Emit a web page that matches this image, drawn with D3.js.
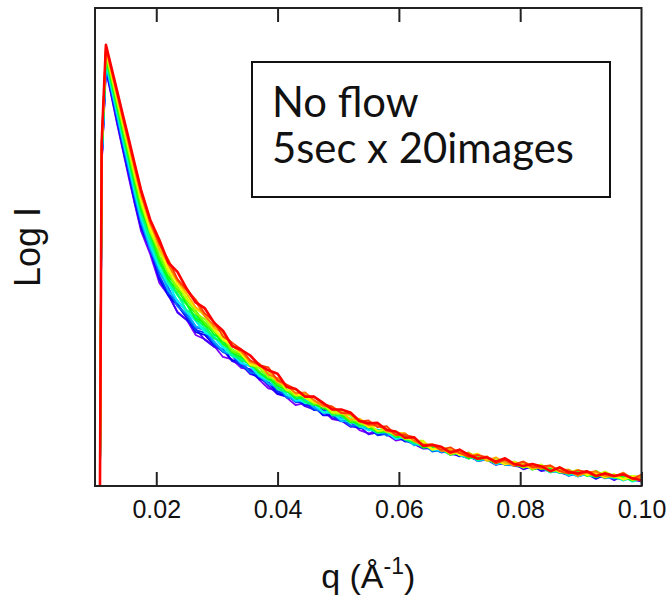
<!DOCTYPE html>
<html>
<head>
<meta charset="utf-8">
<script src="https://cdn.jsdelivr.net/npm/d3@7"></script>
<style>
  body { margin: 0; background: #fff; }
</style>
</head>
<body>
<svg id="chart" width="669" height="600"></svg>
<script>
// q values shared by every image (1/Angstrom)
const qValues = [0.0107, 0.0110, 0.0117, 0.0125, 0.0135, 0.0145, 0.0155, 0.0165, 0.0175,
  0.0190, 0.0205, 0.0220, 0.0235, 0.0250, 0.0265, 0.0280, 0.0295, 0.0310, 0.0325, 0.0340,
  0.0355, 0.0370, 0.0385, 0.0400, 0.0415, 0.0430, 0.0445, 0.0460, 0.0475, 0.0490, 0.0505,
  0.0520, 0.0535, 0.0550, 0.0565, 0.0580, 0.0595, 0.0610, 0.0625, 0.0640, 0.0655, 0.0670,
  0.0685, 0.0700, 0.0715, 0.0730, 0.0745, 0.0760, 0.0775, 0.0790, 0.0805, 0.0820, 0.0835,
  0.0850, 0.0865, 0.0880, 0.0895, 0.0910, 0.0925, 0.0940, 0.0955, 0.0970, 0.0985, 0.1000];

// Log I (arbitrary units) for the 20 images, first (violet) to last (red)
const img01 = [-0.5, 6.70, 8.70, 8.22, 7.60, 7.02, 6.43, 5.87, 5.33,
  4.85, 4.25, 3.99, 3.64, 3.48, 3.16, 3.07, 2.94, 2.70, 2.65, 2.47, 2.44, 2.22, 2.04, 1.99, 1.85, 1.69, 1.74, 1.59, 1.58, 1.40, 1.36, 1.34, 1.17, 1.10, 1.14, 1.08, 0.95, 0.99, 0.88, 0.88, 0.73, 0.80, 0.67, 0.63, 0.66, 0.52, 0.55, 0.55, 0.45, 0.47, 0.35, 0.41, 0.40, 0.30, 0.29, 0.33, 0.20, 0.25, 0.25, 0.16, 0.23, 0.15, 0.16, 0.10];
const img02 = [-0.5, 6.73, 8.73, 8.24, 7.64, 7.05, 6.48, 5.90, 5.38,
  4.92, 4.31, 4.01, 3.63, 3.47, 3.29, 3.06, 2.91, 2.85, 2.61, 2.54, 2.34, 2.29, 2.10, 1.92, 1.87, 1.82, 1.67, 1.60, 1.60, 1.42, 1.37, 1.24, 1.25, 1.08, 1.12, 1.09, 0.97, 1.02, 0.88, 0.78, 0.79, 0.70, 0.76, 0.64, 0.58, 0.61, 0.55, 0.44, 0.52, 0.42, 0.39, 0.43, 0.31, 0.35, 0.29, 0.30, 0.22, 0.27, 0.17, 0.22, 0.12, 0.22, 0.14, 0.09];
const img03 = [-0.5, 6.76, 8.76, 8.28, 7.68, 7.09, 6.53, 5.95, 5.43,
  4.97, 4.35, 3.98, 3.78, 3.52, 3.22, 3.16, 2.95, 2.86, 2.63, 2.61, 2.38, 2.24, 2.17, 1.94, 1.87, 1.84, 1.70, 1.66, 1.48, 1.48, 1.41, 1.27, 1.21, 1.23, 1.07, 1.10, 1.05, 0.93, 0.95, 0.82, 0.79, 0.71, 0.73, 0.62, 0.67, 0.56, 0.60, 0.45, 0.48, 0.48, 0.36, 0.41, 0.33, 0.40, 0.29, 0.22, 0.28, 0.25, 0.15, 0.24, 0.16, 0.22, 0.11, 0.14];
const img04 = [-0.5, 6.78, 8.78, 8.31, 7.72, 7.13, 6.57, 6.00, 5.48,
  5.02, 4.40, 4.03, 3.81, 3.55, 3.26, 3.21, 2.97, 2.80, 2.73, 2.50, 2.44, 2.27, 2.18, 1.98, 1.91, 1.75, 1.76, 1.59, 1.62, 1.47, 1.35, 1.37, 1.21, 1.21, 1.06, 1.09, 1.08, 0.95, 0.88, 0.91, 0.74, 0.76, 0.65, 0.71, 0.62, 0.53, 0.58, 0.56, 0.44, 0.43, 0.49, 0.37, 0.38, 0.29, 0.35, 0.21, 0.28, 0.27, 0.19, 0.27, 0.18, 0.13, 0.18, 0.11];
const img05 = [-0.5, 6.81, 8.81, 8.34, 7.75, 7.17, 6.61, 6.04, 5.52,
  4.94, 4.48, 4.15, 3.76, 3.59, 3.32, 3.26, 3.00, 2.81, 2.74, 2.59, 2.37, 2.34, 2.14, 2.08, 1.85, 1.82, 1.81, 1.63, 1.53, 1.53, 1.42, 1.26, 1.27, 1.18, 1.18, 1.05, 1.11, 0.96, 0.88, 0.89, 0.72, 0.75, 0.75, 0.65, 0.66, 0.52, 0.57, 0.55, 0.45, 0.44, 0.49, 0.35, 0.39, 0.37, 0.27, 0.33, 0.24, 0.25, 0.20, 0.24, 0.15, 0.23, 0.14, 0.20];
const img06 = [-0.5, 6.83, 8.84, 8.37, 7.79, 7.21, 6.65, 6.08, 5.56,
  4.98, 4.55, 4.08, 3.88, 3.64, 3.34, 3.28, 3.03, 2.83, 2.75, 2.56, 2.52, 2.30, 2.14, 2.07, 1.91, 1.77, 1.81, 1.65, 1.56, 1.54, 1.36, 1.35, 1.24, 1.23, 1.11, 1.14, 0.99, 1.01, 0.85, 0.90, 0.78, 0.71, 0.76, 0.65, 0.66, 0.52, 0.56, 0.56, 0.45, 0.43, 0.50, 0.36, 0.39, 0.29, 0.35, 0.27, 0.20, 0.27, 0.28, 0.17, 0.17, 0.24, 0.13, 0.15];
const img07 = [-0.5, 6.86, 8.87, 8.40, 7.83, 7.25, 6.70, 6.13, 5.61,
  5.05, 4.55, 4.25, 3.86, 3.67, 3.45, 3.21, 3.12, 2.89, 2.76, 2.58, 2.50, 2.30, 2.25, 2.04, 1.98, 1.79, 1.78, 1.72, 1.54, 1.53, 1.39, 1.42, 1.25, 1.16, 1.18, 1.12, 0.98, 1.03, 0.90, 0.91, 0.75, 0.76, 0.77, 0.64, 0.58, 0.63, 0.57, 0.45, 0.51, 0.44, 0.48, 0.36, 0.44, 0.32, 0.28, 0.32, 0.20, 0.25, 0.28, 0.19, 0.22, 0.11, 0.18, 0.18];
const img08 = [-0.5, 6.89, 8.90, 8.43, 7.86, 7.29, 6.74, 6.17, 5.65,
  5.17, 4.57, 4.21, 4.01, 3.65, 3.48, 3.23, 3.14, 2.92, 2.71, 2.66, 2.53, 2.31, 2.20, 2.14, 1.90, 1.86, 1.73, 1.73, 1.54, 1.54, 1.46, 1.32, 1.33, 1.21, 1.11, 1.13, 1.02, 1.07, 0.90, 0.82, 0.83, 0.76, 0.65, 0.72, 0.61, 0.56, 0.59, 0.46, 0.50, 0.44, 0.46, 0.37, 0.41, 0.29, 0.33, 0.22, 0.31, 0.23, 0.19, 0.27, 0.17, 0.21, 0.09, 0.15];
const img09 = [-0.5, 6.91, 8.92, 8.46, 7.90, 7.33, 6.78, 6.22, 5.70,
  5.10, 4.67, 4.26, 4.03, 3.68, 3.56, 3.29, 3.10, 2.99, 2.73, 2.65, 2.55, 2.35, 2.27, 2.02, 1.97, 1.91, 1.76, 1.69, 1.68, 1.48, 1.46, 1.40, 1.24, 1.28, 1.15, 1.13, 1.03, 1.03, 0.89, 0.91, 0.78, 0.82, 0.66, 0.69, 0.68, 0.54, 0.58, 0.49, 0.56, 0.45, 0.39, 0.44, 0.40, 0.28, 0.36, 0.27, 0.32, 0.21, 0.25, 0.28, 0.17, 0.14, 0.21, 0.17];
const img10 = [-0.5, 6.94, 8.95, 8.49, 7.93, 7.36, 6.82, 6.26, 5.74,
  5.22, 4.67, 4.34, 3.99, 3.80, 3.47, 3.36, 3.09, 3.03, 2.79, 2.62, 2.58, 2.37, 2.28, 2.04, 1.97, 1.93, 1.77, 1.69, 1.70, 1.50, 1.47, 1.33, 1.33, 1.22, 1.12, 1.16, 1.12, 0.97, 0.91, 0.93, 0.77, 0.77, 0.66, 0.72, 0.57, 0.62, 0.59, 0.48, 0.55, 0.45, 0.39, 0.43, 0.35, 0.42, 0.30, 0.25, 0.30, 0.26, 0.18, 0.27, 0.18, 0.16, 0.21, 0.10];
const img11 = [-0.5, 6.97, 8.98, 8.53, 7.97, 7.41, 6.86, 6.31, 5.79,
  5.31, 4.73, 4.31, 4.10, 3.82, 3.50, 3.42, 3.17, 3.05, 2.79, 2.69, 2.59, 2.37, 2.23, 2.17, 2.00, 1.83, 1.85, 1.72, 1.70, 1.52, 1.54, 1.37, 1.28, 1.29, 1.12, 1.14, 1.12, 0.99, 0.97, 0.80, 0.83, 0.80, 0.69, 0.67, 0.70, 0.55, 0.58, 0.55, 0.45, 0.51, 0.42, 0.42, 0.35, 0.38, 0.28, 0.34, 0.25, 0.31, 0.19, 0.23, 0.24, 0.13, 0.19, 0.12];
const img12 = [-0.5, 6.99, 9.01, 8.56, 8.00, 7.45, 6.90, 6.35, 5.83,
  5.33, 4.74, 4.38, 4.17, 3.81, 3.61, 3.36, 3.25, 2.96, 2.86, 2.73, 2.51, 2.48, 2.28, 2.10, 2.01, 1.88, 1.90, 1.72, 1.62, 1.60, 1.49, 1.34, 1.37, 1.23, 1.16, 1.18, 1.03, 1.04, 0.93, 0.91, 0.78, 0.80, 0.67, 0.70, 0.58, 0.65, 0.55, 0.48, 0.55, 0.44, 0.47, 0.34, 0.39, 0.40, 0.29, 0.27, 0.34, 0.21, 0.26, 0.17, 0.24, 0.18, 0.11, 0.18];
const img13 = [-0.5, 7.02, 9.03, 8.59, 8.04, 7.48, 6.94, 6.40, 5.88,
  5.37, 4.80, 4.47, 4.08, 3.89, 3.67, 3.41, 3.23, 3.11, 2.81, 2.73, 2.60, 2.40, 2.36, 2.14, 2.02, 1.89, 1.87, 1.71, 1.72, 1.56, 1.55, 1.36, 1.34, 1.30, 1.14, 1.17, 1.06, 1.09, 0.94, 0.83, 0.84, 0.79, 0.65, 0.73, 0.63, 0.66, 0.53, 0.54, 0.56, 0.44, 0.40, 0.46, 0.41, 0.30, 0.36, 0.29, 0.33, 0.22, 0.32, 0.21, 0.18, 0.24, 0.12, 0.17];
const img14 = [-0.5, 7.04, 9.06, 8.62, 8.07, 7.52, 6.98, 6.44, 5.92,
  5.30, 4.91, 4.46, 4.15, 3.95, 3.62, 3.49, 3.26, 3.10, 2.85, 2.77, 2.53, 2.47, 2.27, 2.23, 2.01, 1.89, 1.91, 1.74, 1.71, 1.52, 1.51, 1.47, 1.31, 1.25, 1.28, 1.12, 1.11, 0.98, 0.99, 0.87, 0.76, 0.80, 0.77, 0.65, 0.63, 0.67, 0.54, 0.54, 0.45, 0.51, 0.38, 0.44, 0.42, 0.32, 0.39, 0.29, 0.23, 0.28, 0.22, 0.30, 0.19, 0.16, 0.21, 0.17];
const img15 = [-0.5, 7.07, 9.09, 8.65, 8.11, 7.57, 7.03, 6.49, 5.97,
  5.34, 4.95, 4.50, 4.28, 3.91, 3.72, 3.56, 3.27, 3.05, 2.94, 2.77, 2.54, 2.50, 2.34, 2.25, 2.00, 2.02, 1.84, 1.74, 1.73, 1.54, 1.52, 1.49, 1.33, 1.31, 1.15, 1.18, 1.14, 1.00, 0.95, 0.95, 0.77, 0.79, 0.76, 0.65, 0.70, 0.59, 0.58, 0.50, 0.53, 0.43, 0.50, 0.40, 0.45, 0.31, 0.34, 0.34, 0.22, 0.28, 0.22, 0.30, 0.20, 0.15, 0.21, 0.18];
const img16 = [-0.5, 7.10, 9.12, 8.68, 8.15, 7.60, 7.07, 6.53, 6.01,
  5.41, 5.01, 4.55, 4.22, 4.01, 3.71, 3.60, 3.31, 3.08, 2.95, 2.78, 2.55, 2.54, 2.35, 2.18, 2.09, 1.91, 1.89, 1.77, 1.73, 1.58, 1.56, 1.40, 1.38, 1.23, 1.28, 1.16, 1.06, 1.10, 0.94, 0.92, 0.76, 0.79, 0.78, 0.66, 0.63, 0.68, 0.53, 0.55, 0.45, 0.51, 0.44, 0.36, 0.42, 0.41, 0.29, 0.28, 0.34, 0.23, 0.26, 0.18, 0.25, 0.13, 0.20, 0.19];
const img17 = [-0.5, 7.12, 9.15, 8.71, 8.18, 7.64, 7.11, 6.57, 6.05,
  5.52, 4.96, 4.65, 4.29, 4.03, 3.74, 3.59, 3.31, 3.20, 2.92, 2.85, 2.58, 2.52, 2.42, 2.17, 2.09, 1.94, 1.95, 1.78, 1.66, 1.65, 1.55, 1.39, 1.41, 1.28, 1.28, 1.14, 1.12, 1.10, 0.94, 0.85, 0.87, 0.80, 0.67, 0.72, 0.64, 0.66, 0.53, 0.60, 0.48, 0.44, 0.49, 0.36, 0.40, 0.41, 0.31, 0.33, 0.21, 0.28, 0.29, 0.20, 0.20, 0.26, 0.13, 0.18];
const img18 = [-0.5, 7.15, 9.17, 8.74, 8.22, 7.68, 7.15, 6.62, 6.10,
  5.48, 5.08, 4.63, 4.29, 4.09, 3.86, 3.55, 3.36, 3.23, 2.93, 2.81, 2.60, 2.56, 2.33, 2.26, 2.11, 1.94, 1.96, 1.80, 1.68, 1.66, 1.52, 1.54, 1.36, 1.27, 1.27, 1.19, 1.06, 1.10, 0.95, 0.87, 0.87, 0.73, 0.75, 0.69, 0.69, 0.59, 0.62, 0.49, 0.53, 0.42, 0.51, 0.42, 0.36, 0.43, 0.32, 0.34, 0.22, 0.28, 0.31, 0.21, 0.20, 0.28, 0.15, 0.19];
const img19 = [-0.5, 7.18, 9.20, 8.78, 8.26, 7.72, 7.20, 6.67, 6.15,
  5.56, 5.06, 4.73, 4.33, 4.11, 3.90, 3.61, 3.44, 3.13, 3.00, 2.86, 2.63, 2.53, 2.48, 2.21, 2.12, 2.03, 1.87, 1.87, 1.72, 1.66, 1.53, 1.51, 1.35, 1.37, 1.23, 1.25, 1.07, 1.07, 1.02, 0.85, 0.86, 0.76, 0.81, 0.69, 0.61, 0.65, 0.60, 0.47, 0.55, 0.46, 0.51, 0.39, 0.41, 0.43, 0.31, 0.26, 0.33, 0.29, 0.20, 0.27, 0.21, 0.26, 0.15, 0.24];
const img20 = [-0.5, 7.20, 9.23, 8.81, 8.29, 7.76, 7.24, 6.71, 6.19,
  5.57, 5.15, 4.67, 4.48, 4.13, 3.84, 3.72, 3.42, 3.25, 2.93, 2.85, 2.73, 2.53, 2.42, 2.35, 2.07, 2.03, 1.87, 1.87, 1.74, 1.60, 1.60, 1.54, 1.36, 1.31, 1.32, 1.17, 1.14, 1.01, 1.02, 0.84, 0.86, 0.82, 0.70, 0.76, 0.65, 0.57, 0.60, 0.51, 0.58, 0.46, 0.42, 0.46, 0.41, 0.31, 0.39, 0.29, 0.26, 0.31, 0.21, 0.26, 0.21, 0.24, 0.16, 0.12];

const images = [img01, img02, img03, img04, img05, img06, img07, img08, img09, img10,
  img11, img12, img13, img14, img15, img16, img17, img18, img19, img20];

const xTicks = [0.02, 0.04, 0.06, 0.08, 0.10];
const legendLines = ["No flow", "5sec x 20images"];

const svg = d3.select("#chart");
const plot = {left: 95, right: 641.5, top: 8, bottom: 486};

const x = d3.scaleLinear().domain([0.0099, 0.1]).range([plot.left, plot.right]);
const y = d3.scaleLinear().domain([0, 10]).range([plot.bottom, plot.top]);

// violet for the first image through to red for the last
const color = i => d3.hsl(270 * (1 - i / (images.length - 1)), 1, 0.5).toString();

svg.append("defs").append("clipPath").attr("id", "plotclip")
  .append("rect")
    .attr("x", plot.left).attr("y", plot.top)
    .attr("width", plot.right - plot.left).attr("height", plot.bottom - plot.top);

const line = d3.line()
  .x((d, i) => x(qValues[i]))
  .y(d => y(d));

svg.append("g").attr("clip-path", "url(#plotclip)")
  .selectAll("path")
  .data(images)
  .join("path")
    .attr("d", line)
    .attr("fill", "none")
    .attr("stroke", (d, i) => color(i))
    .attr("stroke-width", (d, i) => i === images.length - 1 ? 2.6 : 1.8)
    .attr("stroke-linejoin", "round");

// frame
svg.append("rect")
  .attr("x", plot.left).attr("y", plot.top)
  .attr("width", plot.right - plot.left).attr("height", plot.bottom - plot.top)
  .attr("fill", "none").attr("stroke", "#222").attr("stroke-width", 2);

const bottomAxis = svg.append("g")
  .attr("transform", `translate(0,${plot.bottom})`)
  .call(d3.axisBottom(x).tickValues(xTicks).tickFormat(d3.format(".2f"))
    .tickSizeInner(-14).tickSizeOuter(0).tickPadding(14));
bottomAxis.select(".domain").remove();
bottomAxis.selectAll("line").attr("stroke", "#222").attr("stroke-width", 2);
bottomAxis.selectAll("text")
  .attr("fill", "#111")
  .style("font-family", "'Liberation Sans', Arial, sans-serif")
  .style("font-size", "25px");

const topAxis = svg.append("g")
  .attr("transform", `translate(0,${plot.top})`)
  .call(d3.axisTop(x).tickValues(xTicks.slice(0, 4)).tickFormat("")
    .tickSizeInner(-14).tickSizeOuter(0));
topAxis.select(".domain").remove();
topAxis.selectAll("line").attr("stroke", "#222").attr("stroke-width", 2);

// axis titles
const xTitle = svg.append("text")
  .attr("x", (plot.left + plot.right) / 2).attr("y", 588)
  .attr("text-anchor", "middle")
  .attr("fill", "#111")
  .style("font-family", "'Liberation Sans', Arial, sans-serif")
  .style("font-size", "34px");
xTitle.append("tspan").text("q (Å");
xTitle.append("tspan").attr("dy", -14).style("font-size", "23px").text("-1");
xTitle.append("tspan").attr("dy", 14).text(")");

svg.append("text")
  .attr("transform", `translate(40,${(plot.top + plot.bottom) / 2}) rotate(-90)`)
  .attr("text-anchor", "middle")
  .attr("fill", "#111")
  .style("font-family", "'Liberation Sans', Arial, sans-serif")
  .style("font-size", "36px")
  .text("Log I");

// legend box
const legend = svg.append("g");
legend.append("rect")
  .attr("x", 252).attr("y", 62).attr("width", 358).attr("height", 135)
  .attr("fill", "#fff").attr("stroke", "#111").attr("stroke-width", 2);

const legendText = legend.selectAll("text")
  .data(legendLines)
  .join("text")
    .attr("x", 272)
    .attr("y", (d, i) => 117 + i * 46)
    .attr("fill", "#111")
    .style("font-family", "Lato, 'Open Sans', sans-serif")
    .style("font-size", "40px")
    .text(d => d);

// fit the longer line to the width it has in the original
const w = legendText.nodes()[1].getComputedTextLength();
legendText.style("font-size", (40 * 302 / w) + "px");
</script>
</body>
</html>
